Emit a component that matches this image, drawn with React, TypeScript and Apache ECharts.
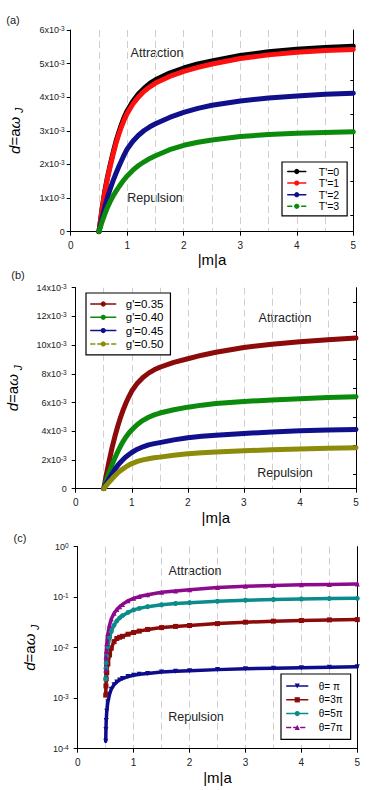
import React, { useEffect, useRef } from 'react';
import * as echarts from 'echarts';

const FONT = "'Liberation Sans', Arial, sans-serif";

// ---------- Panels (a) and (b): common |m|a sample positions ----------
const X_AB = [0.5, 0.55, 0.6, 0.65, 0.7, 0.75, 0.8, 0.85, 0.9, 0.95, 1, 1.1, 1.2, 1.3, 1.4, 1.5, 1.75, 2, 2.25, 2.5, 3, 3.5, 4, 4.5, 5];

// Panel (a): d in units of 10^-3
const A_NAMES = ["T'=0", "T'=1", "T'=2", "T'=3"];
const A_T0 = [0, 0.62, 1.18, 1.62, 2.0, 2.35, 2.68, 2.95, 3.2, 3.42, 3.6, 3.88, 4.1, 4.27, 4.41, 4.52, 4.72, 4.87, 4.99, 5.08, 5.24, 5.35, 5.43, 5.48, 5.52];
const A_T1 = [0, 0.6, 1.15, 1.58, 1.95, 2.3, 2.62, 2.89, 3.13, 3.34, 3.52, 3.8, 4.01, 4.18, 4.31, 4.42, 4.62, 4.77, 4.89, 4.99, 5.15, 5.26, 5.34, 5.39, 5.42];
const A_T2 = [0, 0.38, 0.72, 1.02, 1.28, 1.52, 1.73, 1.93, 2.12, 2.3, 2.46, 2.69, 2.87, 3.01, 3.12, 3.21, 3.4, 3.55, 3.67, 3.76, 3.89, 3.98, 4.04, 4.09, 4.12];
const A_T3 = [0, 0.27, 0.51, 0.72, 0.9, 1.06, 1.2, 1.33, 1.45, 1.56, 1.66, 1.83, 1.97, 2.08, 2.18, 2.26, 2.44, 2.57, 2.66, 2.73, 2.83, 2.89, 2.93, 2.95, 2.97];
const A_COLORS = ['#000000', '#ff1010', '#10108c', '#0c8a0c'];

// Panel (b): d in units of 10^-3
const B_NAMES = ["g'=0.35", "g'=0.40", "g'=0.45", "g'=0.50"];
const B_G35 = [0, 1.05, 2.0, 2.88, 3.65, 4.35, 4.97, 5.52, 6.0, 6.42, 6.8, 7.35, 7.75, 8.05, 8.28, 8.46, 8.8, 9.05, 9.3, 9.5, 9.84, 10.06, 10.24, 10.38, 10.49];
const B_G40 = [0, 0.62, 1.17, 1.68, 2.15, 2.58, 2.97, 3.32, 3.62, 3.88, 4.1, 4.47, 4.76, 4.98, 5.14, 5.27, 5.5, 5.68, 5.82, 5.93, 6.07, 6.18, 6.27, 6.35, 6.41];
const B_G45 = [0, 0.38, 0.72, 1.05, 1.35, 1.62, 1.85, 2.05, 2.23, 2.38, 2.52, 2.75, 2.92, 3.05, 3.14, 3.21, 3.4, 3.55, 3.65, 3.73, 3.85, 3.95, 4.03, 4.08, 4.13];
const B_G50 = [0, 0.25, 0.47, 0.69, 0.9, 1.1, 1.26, 1.4, 1.53, 1.65, 1.75, 1.9, 2.01, 2.09, 2.15, 2.2, 2.33, 2.43, 2.5, 2.56, 2.64, 2.71, 2.77, 2.82, 2.86];
const B_COLORS = ['#8c0a0a', '#0c8a0c', '#10108c', '#8c8c0a'];

// ---------- Panel (c): log scale ----------
const X_C = [0.501, 0.505, 0.51, 0.52, 0.54, 0.57, 0.6, 0.65, 0.7, 0.75, 0.8, 0.9, 1, 1.1, 1.25, 1.5, 1.75, 2, 2.5, 3, 3.5, 4, 4.5, 5];
const C_NAMES = ['θ= π', 'θ=3π', 'θ=5π', 'θ=7π'];
const C_TH1 = [1.4e-4, 2.4e-4, 3.6e-4, 5.5e-4, 8.5e-4, 1.2e-3, 1.5e-3, 1.85e-3, 2.1e-3, 2.3e-3, 2.45e-3, 2.68e-3, 2.85e-3, 2.98e-3, 3.1e-3, 3.3e-3, 3.42e-3, 3.5e-3, 3.68e-3, 3.82e-3, 3.93e-3, 4.03e-3, 4.12e-3, 4.2e-3];
const C_TH3 = [1.15e-3, 1.75e-3, 2.4e-3, 3.2e-3, 4.8e-3, 7.2e-3, 9.8e-3, 0.0132, 0.0152, 0.0161, 0.0168, 0.0185, 0.02, 0.0213, 0.023, 0.025, 0.0264, 0.0275, 0.03, 0.032, 0.0335, 0.0345, 0.0355, 0.036];
const C_TH5 = [2.4e-3, 3.9e-3, 5.0e-3, 6.8e-3, 0.0105, 0.016, 0.021, 0.028, 0.034, 0.039, 0.043, 0.05, 0.056, 0.06, 0.065, 0.071, 0.075, 0.078, 0.083, 0.087, 0.09, 0.092, 0.094, 0.095];
const C_TH7 = [3.6e-3, 6.6e-3, 8.5e-3, 0.012, 0.019, 0.028, 0.037, 0.048, 0.057, 0.065, 0.072, 0.085, 0.095, 0.103, 0.112, 0.125, 0.133, 0.14, 0.155, 0.165, 0.171, 0.176, 0.179, 0.182];
const C_COLORS = ['#0c0c8c', '#8c0a0a', '#0a8c8c', '#8c0a8c'];
const C_SYMBOLS = ['triangle', 'rect', 'circle', 'triangle'];
const C_ROT = [180, 0, 0, 0];

const Y_A_MAX = 6;
const Y_B_MAX = 14;

const GRIDS = [
  { left: 70.7, top: 30, width: 282.6, height: 201.7 },
  { left: 75.7, top: 287.7, width: 280.3, height: 201 },
  { left: 77.7, top: 546.7, width: 279.6, height: 202 },
];

const supRich = {
  b: { fontSize: 9, fontFamily: FONT, color: '#222', lineHeight: 10, padding: [5, 0, 5, 0] },
  s: { fontSize: 6.5, fontFamily: FONT, color: '#222', lineHeight: 7, verticalAlign: 'top' },
};

const nameRich = {
  i: { fontSize: 15, fontFamily: FONT, fontStyle: 'italic', color: '#000', lineHeight: 16, padding: [0, 0, 5, 0] },
  n: { fontSize: 15, fontFamily: FONT, color: '#000', lineHeight: 16, padding: [0, 0, 5, 0] },
  j: { fontSize: 10, fontFamily: FONT, fontStyle: 'italic', color: '#000', lineHeight: 10, verticalAlign: 'bottom', padding: [0, 0, 0, 4] },
};

const gridLine = { color: '#cfcfcf', type: [7, 4], width: 1 };

function mkX(i: number, gap: number) {
  return {
    type: 'value', gridIndex: i, min: 0, max: 5, interval: 1,
    name: '|m|a', nameLocation: 'middle', nameGap: gap,
    nameTextStyle: { fontSize: 15, fontFamily: FONT, color: '#000' },
    axisLine: { show: true, onZero: false, lineStyle: { color: '#000', width: 1 } },
    axisTick: { show: true, length: 4, lineStyle: { color: '#000' } },
    axisLabel: { fontSize: 10, fontFamily: FONT, color: '#222', margin: 9 },
    splitLine: { show: true, showMinLine: false, showMaxLine: false, lineStyle: gridLine },
    minorTick: { show: false, splitNumber: 2 },
    minorSplitLine: { show: true, lineStyle: gridLine },
  };
}

function mkYLin(i: number, max: number, interval: number, margin: number, gap: number) {
  return {
    type: 'value', gridIndex: i, min: 0, max, interval, position: 'left',
    name: '{i|d}{n|=a}{i|ω}{j|J}', nameLocation: 'middle', nameGap: gap,
    nameTextStyle: { rich: nameRich },
    axisLine: { show: true, onZero: false, lineStyle: { color: '#000', width: 1 } },
    axisTick: { show: true, length: 4, lineStyle: { color: '#000' } },
    axisLabel: {
      margin, rich: supRich,
      formatter: (v: number) => (Math.abs(v) < 1e-9 ? '{b|0}' : `{b|${Math.round(v)}x10}{s|-3}`),
    },
    splitLine: { show: false },
  };
}

function mkYRight(i: number, max: number, interval: number) {
  return {
    type: 'value', gridIndex: i, min: 0, max, interval, position: 'right',
    axisLine: { show: true, onZero: false, lineStyle: { color: '#000', width: 1 } },
    axisTick: { show: false, inside: true },
    minorTick: { show: true, splitNumber: 2, length: 3, lineStyle: { color: '#000' } },
    axisLabel: { show: false },
    splitLine: { show: false },
  };
}

function lineSeries(name: string, xs: number[], ys: number[], color: string, idx: number, width: number) {
  return {
    type: 'line', name, xAxisIndex: idx, yAxisIndex: idx,
    data: xs.map((x, k) => [x, ys[k]]),
    smooth: false,
    symbol: 'circle', showSymbol: false,
    lineStyle: { color, width, join: 'round', cap: 'round' },
    itemStyle: { color },
    emphasis: { disabled: true },
  };
}

function legendBox(left: number, top: number, names: string[], dashedIdx: number, o: any) {
  return {
    orient: 'vertical', left, top,
    borderColor: '#000', borderWidth: 1.2, backgroundColor: '#fff',
    padding: o.padding, itemWidth: o.itemWidth, itemHeight: o.itemHeight, itemGap: o.itemGap,
    selectedMode: false,
    lineStyle: { width: 1.5 },
    textStyle: { fontSize: o.fontSize, lineHeight: o.lineHeight, fontFamily: FONT, color: '#000', padding: [0, 0, 0, o.textPad] },
    data: names.map((n, k) => (k === dashedIdx ? { name: n, lineStyle: { type: [4, 3], width: 1.5 } } : { name: n })),
  };
}

function textEl(text: string, x: number, y: number, size: number) {
  return {
    type: 'text', x, y,
    style: { text, fontSize: size, fontFamily: FONT, fill: '#222', align: 'center', verticalAlign: 'middle' },
  };
}

const A_SERIES = [A_T0, A_T1, A_T2, A_T3];
const B_SERIES = [B_G35, B_G40, B_G45, B_G50];
const C_SERIES = [C_TH1, C_TH3, C_TH5, C_TH7];

function buildOption() {
  const series: any[] = [];
  A_SERIES.forEach((ys, k) => series.push(lineSeries(A_NAMES[k], X_AB, ys, A_COLORS[k], 0, 5)));
  B_SERIES.forEach((ys, k) => series.push(lineSeries(B_NAMES[k], X_AB, ys, B_COLORS[k], 1, 5)));
  C_SERIES.forEach((ys, k) => {
    const s: any = lineSeries(C_NAMES[k], X_C, ys, C_COLORS[k], 2, 3.5);
    s.symbol = C_SYMBOLS[k];
    s.symbolRotate = C_ROT[k];
    s.symbolSize = 5;
    s.showSymbol = true;
    s.showAllSymbol = true;
    series.push(s);
  });

  return {
    animation: false,
    backgroundColor: '#fff',
    grid: GRIDS.map((g) => ({ ...g, containLabel: false, outerBoundsMode: 'none' })),
    xAxis: [mkX(0, 16), mkX(1, 21), mkX(2, 21)],
    yAxis: [
      mkYLin(0, Y_A_MAX, 1, 6, 46),
      mkYLin(1, Y_B_MAX, 2, 9, 49),
      {
        type: 'log', gridIndex: 2, min: 1e-4, max: 1, logBase: 10, position: 'left',
        name: '{i|d}{n|=a}{i|ω}{j|J}', nameLocation: 'middle', nameGap: 36,
        nameTextStyle: { rich: nameRich },
        axisLine: { show: true, onZero: false, lineStyle: { color: '#000', width: 1 } },
        axisTick: { show: true, length: 4, lineStyle: { color: '#000' } },
        axisLabel: {
          margin: 9, rich: supRich,
          formatter: (v: number) => `{b|10}{s|${Math.round(Math.log10(v))}}`,
        },
        splitLine: { show: false },
      },
      mkYRight(0, Y_A_MAX, 1),
      mkYRight(1, Y_B_MAX, 2),
      {
        type: 'log', gridIndex: 2, min: 1e-4, max: 1, logBase: 10, position: 'right',
        axisLine: { show: true, onZero: false, lineStyle: { color: '#000', width: 1 } },
        axisTick: { show: false },
        axisLabel: { show: false },
        splitLine: { show: false },
      },
    ],
    legend: [
      legendBox(282, 162, A_NAMES, 3, { padding: [4, 8, 4, 5], itemWidth: 18, itemHeight: 6.5, itemGap: 0.6, fontSize: 10.5, lineHeight: 11, textPad: 8 }),
      legendBox(86, 293, B_NAMES, 3, { padding: [5, 7, 5, 4], itemWidth: 25, itemHeight: 6.5, itemGap: 1.3, fontSize: 11.5, lineHeight: 12, textPad: 5 }),
      legendBox(281, 674, C_NAMES, 3, { padding: [6, 8, 6, 5], itemWidth: 21, itemHeight: 6.5, itemGap: 1.8, fontSize: 10, lineHeight: 12, textPad: 6 }),
    ],
    graphic: [
      textEl('(a)', 13, 20, 11),
      textEl('(b)', 18, 275, 11),
      textEl('(c)', 20, 538, 11),
      textEl('Attraction', 157, 53, 12.5),
      textEl('Repulsion', 155, 198, 12.5),
      textEl('Attraction', 285, 318, 12.5),
      textEl('Repulsion', 285, 473, 12.5),
      textEl('Attraction', 195, 571, 12.5),
      textEl('Repulsion', 196, 717, 12.5),
    ],
    series,
  };
}

export default function App() {
  const ref = useRef<HTMLDivElement>(null);
  useEffect(() => {
    if (!ref.current) return;
    const chart = echarts.init(ref.current, null, { renderer: 'svg' });
    chart.setOption(buildOption() as any);
    return () => chart.dispose();
  }, []);
  return <div ref={ref} style={{ position: 'absolute', left: 0, top: 0, width: 374, height: 790 }} />;
}
